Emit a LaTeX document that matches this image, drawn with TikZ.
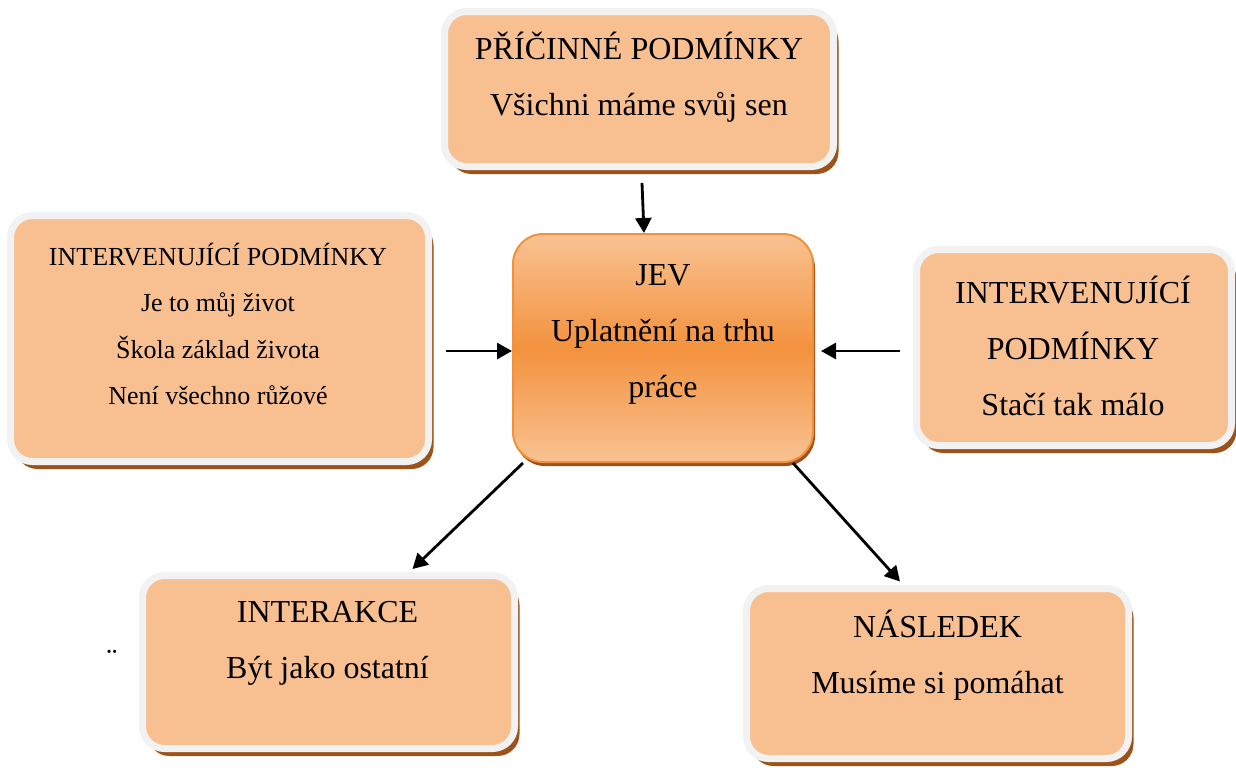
\documentclass[tikz,border=0pt]{standalone}
\usepackage{fontspec}
\setmainfont{Liberation Serif}
\usetikzlibrary{shadows}
\usetikzlibrary{arrows.meta}

\definecolor{boxfill}{RGB}{248,192,145}
\definecolor{boxrim}{RGB}{242,242,242}
\definecolor{shadowbrown}{RGB}{158,82,26}
\definecolor{jevlight}{RGB}{249,194,146}
\definecolor{jevdark}{RGB}{243,146,62}
\definecolor{jevrim}{RGB}{240,146,60}

\begin{document}
\begin{tikzpicture}
			[
				x = 0.5pt, y = -0.5pt,
				box/.style = {rectangle, inner sep = 0pt, rounded corners = 11pt, fill = boxfill, draw = boxrim, line width = 3.5pt, drop shadow = {shadow xshift = 2.5pt, shadow yshift = -3.75pt, fill = shadowbrown, opacity = 1}},
				jevbox/.style = {rectangle, inner sep = 0pt, rounded corners = 15pt, top color = jevlight, bottom color = jevlight, middle color = jevdark, draw = jevrim, line width = 1pt, drop shadow = {shadow xshift = 1pt, shadow yshift = -2pt, fill = shadowbrown, opacity = 1}},
				txt/.style = {align = center, inner sep = 0pt, font = \fontsize{16pt}{28pt}\selectfont},
				smalltxt/.style = {align = center, inner sep = 0pt, font = \fontsize{13pt}{23.3pt}\selectfont},
				arr/.style = {-{Triangle[length = 7.5pt, width = 8pt]}, line width = 1.4pt, black},
			]
			\useasboundingbox (0,0) rectangle (1236,767);
			\node (prc) [box, minimum width = 194.5pt, minimum height = 77.5pt] at (639,89) {};
			\node (prc-t) [txt] at (639,77) {PŘÍČINNÉ PODMÍNKY\\Všichni máme svůj sen};
			\node (intl) [box, minimum width = 209pt, minimum height = 123pt] at (219.5,338.5) {};
			\node (intl-t) [smalltxt] at (218,324) {INTERVENUJÍCÍ PODMÍNKY\\Je to můj život\\Škola základ života\\Není všechno růžové};
			\node (intr) [box, minimum width = 157.5pt, minimum height = 98pt] at (1074,347.5) {};
			\node (intr-t) [txt] at (1073,346) {INTERVENUJÍCÍ\\PODMÍNKY\\Stačí tak málo};
			\node (inter) [box, minimum width = 186pt, minimum height = 86.5pt] at (328.5,662) {};
			\node (inter-t) [txt] at (327.5,643.5) {INTERAKCE\\Být jako ostatní};
			\node (nasl) [box, minimum width = 191pt, minimum height = 85pt] at (937.5,673.5) {};
			\node (nasl-t) [txt] at (937.5,655) {NÁSLEDEK\\Musíme si pomáhat};
			\node (jev) [jevbox, minimum width = 150pt, minimum height = 114pt] at (663,348) {};
			\node (jev-t) [txt] at (663,334) {JEV\\Uplatnění na trhu\\práce};
			\node (trema) [anchor = north, inner sep = 0pt, font = \fontsize{16pt}{16pt}\selectfont] at (112,650) {¨};
			\draw [arr] ([xshift = 1.5pt, yshift = -6.5pt]prc.south) -- ([xshift = -9.5pt]jev.north);
			\draw [arr] ([xshift = 7pt, yshift = -1.5pt]intl.east |- jev.west) -- ([yshift = -1.5pt]jev.west);
			\draw [arr] ([xshift = -6.75pt, yshift = -1.5pt]intr.west |- jev.east) -- ([xshift = 3.5pt, yshift = -1.5pt]jev.east);
			\draw [arr] ([xshift = 5.5pt]jev.south west) -- ([xshift = 42pt, yshift = 1.5pt]inter.north);
			\draw [arr] ([xshift = -10.5pt]jev.south east) -- ([xshift = -18.75pt, yshift = 1.75pt]nasl.north);
		\end{tikzpicture}
\end{document}
